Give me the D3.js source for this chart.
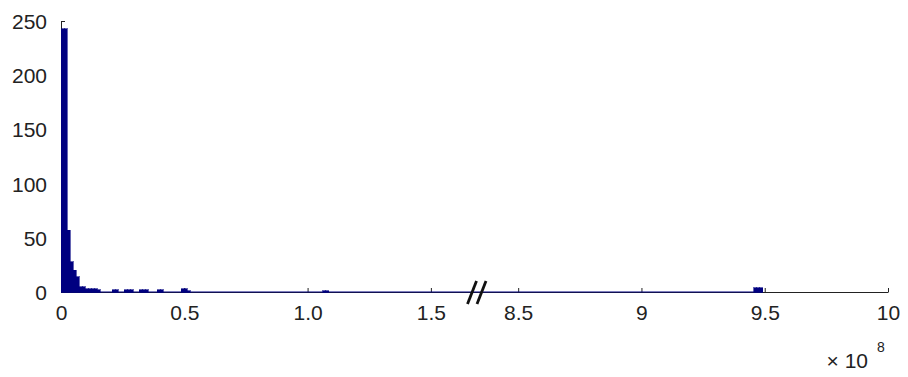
<!DOCTYPE html>
<html>
<head>
<meta charset="utf-8">
<script src="https://cdn.jsdelivr.net/npm/d3@7"></script>
<style>
  html, body { margin: 0; padding: 0; background: #fff; }
  svg { display: block; }
  text { font-family: "Liberation Sans", Arial, sans-serif; fill: #222; }
</style>
</head>
<body>
<svg id="chart" width="908" height="377"></svg>
<script>
// ---- data (x values in units of 10^8) ----
const binWidth = 0.0122;
// counts of consecutive bins starting at 0
const countsLow = [243, 243, 57, 28, 20, 14, 5, 5, 3, 3, 3, 3, 2, 0, 0, 0, 0, 2, 2, 0,
                   0, 2, 2, 2, 0, 0, 2, 2, 2, 0, 0, 0, 2, 2, 0, 0, 0, 0, 0, 0,
                   3, 3, 1];
// isolated bins further out: bin index and count
const sparseBins = [87, 88, 775, 776, 777];
const sparseCounts = [1, 1, 4, 4, 4];
const dataMax = 9.49;
// axis break (removed interval)
const breakLo = 1.687, breakHi = 8.333;
const xTickValues = [0, 0.5, 1.0, 1.5, 8.5, 9, 9.5, 10];
const xTickLabels = ["0", "0.5", "1.0", "1.5", "8.5", "9", "9.5", "10"];
const yTickValues = [0, 50, 100, 150, 200, 250];
const yTickLabels = ["0", "50", "100", "150", "200", "250"];
const exponent = "8";

// ---- build bins ----
const bins = [];
countsLow.forEach((c, i) => { if (c > 0) bins.push({ x0: i * binWidth, x1: (i + 1) * binWidth, n: c }); });
sparseBins.forEach((k, i) => bins.push({ x0: k * binWidth, x1: (k + 1) * binWidth, n: sparseCounts[i] }));

const svg = d3.select("#chart");
const x = d3.scaleLinear().domain([0, breakLo, breakHi, 10]).range([61, 477, 477, 888]);
const y = d3.scaleLinear().domain([0, 250]).range([292, 21]);
const navy = "#000080";

// y axis
const yAxis = d3.axisLeft(y).tickValues(yTickValues)
  .tickFormat((d, i) => yTickLabels[i]).tickSizeInner(-4).tickSizeOuter(0).tickPadding(14);
const gy = svg.append("g").attr("transform", `translate(${x(0)},0)`).call(yAxis);
gy.select(".domain").attr("stroke", "#222");
gy.selectAll(".tick line").attr("stroke", "#222");
gy.selectAll("text").attr("font-size", 21).attr("dy", "0.36em").attr("fill", "#333");

// x axis
const xAxis = d3.axisBottom(x).tickValues(xTickValues)
  .tickFormat((d, i) => xTickLabels[i]).tickSizeInner(-4).tickSizeOuter(0).tickPadding(13);
const gx = svg.append("g").attr("transform", `translate(0,${y(0)})`).call(xAxis);
gx.select(".domain").attr("stroke", "#222");
gx.selectAll(".tick line").attr("stroke", "#222");
gx.selectAll("text").attr("font-size", 21).attr("fill", "#333");

// zero-height bin edges along the baseline
svg.append("line").attr("x1", x(0)).attr("x2", x(breakLo)).attr("y1", y(0)).attr("y2", y(0))
  .attr("stroke", navy).attr("stroke-width", 1.2);
svg.append("line").attr("x1", x(breakHi)).attr("x2", x(dataMax)).attr("y1", y(0)).attr("y2", y(0))
  .attr("stroke", navy).attr("stroke-width", 1.2);

// bars
svg.append("g").attr("shape-rendering", "crispEdges").selectAll("rect").data(bins).join("rect")
  .attr("x", d => x(d.x0))
  .attr("width", d => Math.max(1, x(d.x1) - x(d.x0)))
  .attr("y", d => y(d.n))
  .attr("height", d => y(0) - y(d.n))
  .attr("fill", navy)
  .attr("stroke", navy).attr("stroke-width", 0.6);

// break marks
const bx = x(breakLo), by = y(0);
[-4.5, 5].forEach(off => {
  svg.append("line")
    .attr("x1", bx + off - 5).attr("y1", by + 12)
    .attr("x2", bx + off + 4).attr("y2", by - 11)
    .attr("stroke", "#111").attr("stroke-width", 2.8);
});

// exponent label
svg.append("text").attr("x", 868).attr("y", 368).attr("text-anchor", "end")
  .attr("font-size", 21).attr("fill", "#333").text("× 10");
svg.append("text").attr("x", 877).attr("y", 352).attr("font-size", 14).attr("fill", "#333").text(exponent);
</script>
</body>
</html>
